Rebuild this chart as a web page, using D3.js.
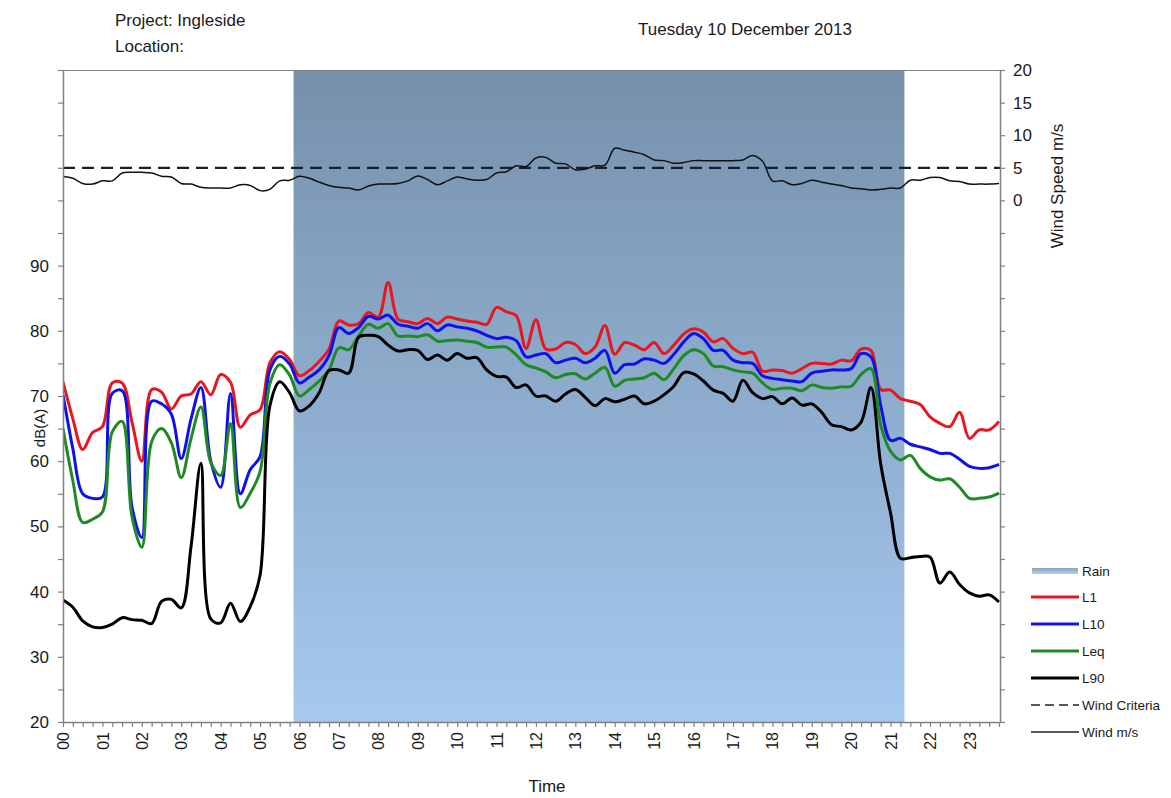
<!DOCTYPE html>
<html>
<head>
<meta charset="utf-8">
<script src="https://cdn.jsdelivr.net/npm/d3@7"></script>
<style>
  html, body { margin: 0; padding: 0; background: #fff; }
  svg { display: block; font-family: "Liberation Sans", Arial, sans-serif; }
</style>
</head>
<body>
<svg id="chart" width="1171" height="798"></svg>
<script>
// ---------------- DATA ----------------
const hourLabels = ["00","01","02","03","04","05","06","07","08","09","10","11",
                    "12","13","14","15","16","17","18","19","20","21","22","23"];
// 15-minute samples from 00:00 to 23:45
const times = d3.range(0, 24, 0.25);

const L1 = [72.2,66.5,61.8,64.4,65.3,72.0,72.0,66.0,60.0,71.0,70.6,68.0,
            70.0,70.3,72.2,70.2,73.3,72.1,65.2,67.1,67.9,75.1,76.8,75.6,
            73.1,73.9,75.3,77.2,81.5,80.9,81.1,82.8,82.1,87.4,81.8,81.4,
            81.1,81.9,81.1,82.1,81.8,81.5,81.3,81.0,83.6,82.9,82.3,77.3,
            81.7,77.2,77.2,78.2,77.9,76.5,77.5,80.8,76.4,78.2,77.8,77.1,
            78.2,76.5,77.8,79.5,80.3,79.8,78.3,78.8,77.3,76.5,76.7,73.8,
            74.0,73.9,73.5,74.2,75.0,75.0,74.9,75.5,75.4,77.2,77.0,71.0,
            70.9,69.6,69.2,68.7,66.8,65.8,65.3,67.5,63.5,64.8,64.8,66.1];

const L10 = [70.2,61.9,55.0,54.3,54.5,70.4,70.8,53.0,48.3,69.2,68.8,67.2,
             60.4,66.5,71.3,60.0,56.0,70.4,55.0,58.7,60.7,74.0,76.1,74.9,
             72.0,72.9,74.0,76.2,80.5,79.6,80.5,82.2,81.8,82.4,81.0,80.7,
             80.4,81.1,80.0,80.9,80.6,80.4,80.0,79.3,78.8,79.0,78.5,76.0,
             76.3,76.5,75.1,75.5,75.8,75.1,75.8,77.0,73.5,74.8,74.9,75.7,
             75.5,75.0,76.4,78.3,79.6,78.8,77.0,77.0,75.5,75.1,75.0,73.1,
             72.7,72.5,72.3,72.2,73.5,73.8,74.0,74.0,74.2,76.5,76.0,68.5,
             63.2,63.5,62.6,62.2,61.8,61.2,61.2,60.3,59.2,58.9,59.0,59.5];

const Leq = [65.0,57.0,50.6,51.1,52.2,64.5,66.1,51.5,46.8,63.0,65.0,62.8,
             57.5,63.5,68.3,59.8,57.8,65.8,52.9,55.1,58.4,71.9,74.8,73.2,
             70.0,71.0,72.3,74.0,77.4,77.1,79.2,81.0,80.4,81.1,79.2,79.2,
             79.1,79.4,78.4,78.5,78.6,78.4,78.2,77.5,77.5,77.5,76.3,74.8,
             74.3,73.7,72.8,73.3,73.4,72.6,73.5,74.4,71.5,72.4,72.6,72.8,
             73.5,72.5,74.2,76.2,77.1,76.5,74.6,74.5,74.0,73.7,73.5,72.0,
             71.0,71.2,71.2,70.8,71.7,71.3,71.2,71.4,71.5,73.3,74.2,65.5,
             61.5,60.2,60.9,58.9,57.6,57.1,57.3,56.0,54.3,54.3,54.5,55.1];

const L90 = [38.7,37.6,35.5,34.6,34.5,35.0,36.0,35.7,35.6,35.1,38.5,38.8,
             37.5,47.0,59.7,35.8,35.2,38.2,35.4,37.7,42.5,68.5,72.2,70.5,
             67.7,68.5,70.5,73.9,74.0,73.5,79.0,79.3,79.1,77.8,76.9,77.1,
             77.0,75.6,76.3,75.5,76.5,75.8,75.9,74.0,73.0,72.9,71.3,71.7,
             70.0,70.0,69.2,70.3,71.0,69.8,68.5,69.6,69.1,69.5,70.0,68.8,
             69.2,70.2,71.5,73.6,73.4,72.3,70.9,70.4,69.2,72.4,70.5,69.6,
             69.9,68.8,69.7,68.6,68.8,67.5,65.6,65.3,64.8,66.0,71.3,59.5,
             52.0,45.1,45.2,45.4,45.3,41.3,43.0,41.1,39.8,39.3,39.5,38.4];

const windSpeed = [3.65,3.4,2.6,2.5,3.0,3.0,4.2,4.3,4.3,4.2,3.7,3.6,
                   2.6,2.5,2.0,1.9,1.9,1.9,2.4,2.3,1.5,1.7,3.0,3.1,
                   3.7,3.4,2.8,2.3,2.0,1.9,1.6,2.2,2.5,2.5,2.6,3.0,
                   3.75,3.2,2.4,3.0,3.6,3.3,3.1,3.2,4.2,4.4,5.3,5.2,
                   6.5,6.6,5.7,5.6,4.7,4.8,5.3,5.4,8.0,7.7,7.4,7.0,
                   6.2,6.1,5.7,5.8,6.1,6.1,6.1,6.1,6.1,6.2,6.9,6.0,
                   3.0,3.0,2.4,2.6,3.1,2.8,2.5,2.3,1.9,1.8,1.6,1.7,
                   1.9,1.9,3.1,3.1,3.5,3.5,3.0,2.9,2.5,2.5,2.5,2.6];

const windCriteria = 5;
const rainPeriods = [[5.85, 21.35]];

const leftTicks = d3.range(20, 121, 5);
const leftLabels = [20,30,40,50,60,70,80,90];
const rightTicks = d3.range(-80, 21, 5);
const rightLabels = [0,5,10,15,20];

const seriesNames = ["L1","L10","Leq","L90"];
const seriesData = [L1, L10, Leq, L90];
const seriesColors = ["#e8161e","#1010ee","#1f8a24","#000000"];

// ---------------- LAYOUT ----------------
const svg = d3.select("#chart");
const pLeft = 63, pRight = 1000, pTop = 70, pBottom = 722;
const x = d3.scaleLinear().domain([0, 23.75]).range([pLeft, pRight - 1]);
const y = d3.scaleLinear().domain([20, 120]).range([pBottom, pTop]);
const yW = d3.scaleLinear().domain([-80, 20]).range([pBottom, pTop]);
const axisCol = "#808080";
const textCol = "#1a1a1a";

// gradient for rain
const defs = svg.append("defs");
const grad = defs.append("linearGradient").attr("id","rainGrad")
  .attr("x1",0).attr("y1",0).attr("x2",0).attr("y2",1);
grad.append("stop").attr("offset","0%").attr("stop-color","#7690ab");
grad.append("stop").attr("offset","100%").attr("stop-color","#a5c9ef");
const gradL = defs.append("linearGradient").attr("id","rainGradLeg")
  .attr("x1",0).attr("y1",0).attr("x2",0).attr("y2",1);
gradL.append("stop").attr("offset","0%").attr("stop-color","#8aa3c0");
gradL.append("stop").attr("offset","100%").attr("stop-color","#b4cfee");
defs.append("clipPath").attr("id","plotClip").append("rect")
  .attr("x", pLeft).attr("y", pTop).attr("width", pRight - pLeft).attr("height", pBottom - pTop);

// rain shading
svg.append("g").selectAll("rect").data(rainPeriods).join("rect")
  .attr("x", d => x(d[0])).attr("width", d => x(d[1]) - x(d[0]))
  .attr("y", pTop).attr("height", pBottom - pTop)
  .attr("fill", "url(#rainGrad)");

// wind criteria dashed line
svg.append("line")
  .attr("x1", pLeft).attr("x2", pRight)
  .attr("y1", yW(windCriteria)).attr("y2", yW(windCriteria))
  .attr("stroke", "#17202e").attr("stroke-width", 2.2)
  .attr("stroke-dasharray", "12,7");

const plot = svg.append("g").attr("clip-path","url(#plotClip)");

// wind speed line
plot.append("path")
  .datum(windSpeed)
  .attr("fill","none").attr("stroke","#111").attr("stroke-width",1.5)
  .attr("d", d3.line().x((d,i) => x(times[i])).y(d => yW(d)).curve(d3.curveCatmullRom.alpha(0.5)));

// noise series
const lineGen = d3.line().x((d,i) => x(times[i])).y(d => y(d)).curve(d3.curveCatmullRom.alpha(0.5));
plot.selectAll("path.series").data(seriesData).join("path")
  .attr("class","series")
  .attr("fill","none")
  .attr("stroke", (d,i) => seriesColors[i])
  .attr("stroke-width", 3)
  .attr("stroke-linejoin","round")
  .attr("d", d => lineGen(d));

// top frame line
svg.append("line").attr("x1", pLeft).attr("x2", pRight).attr("y1", pTop + 0.5).attr("y2", pTop + 0.5)
  .attr("stroke", axisCol).attr("stroke-width", 1.2);

// left axis
const gL = svg.append("g").attr("transform", `translate(${pLeft},0)`)
  .call(d3.axisLeft(y).tickValues(leftTicks).tickSize(5).tickSizeOuter(0)
    .tickFormat(d => leftLabels.includes(d) ? d : ""));
// right axis
const gR = svg.append("g").attr("transform", `translate(${pRight},0)`)
  .call(d3.axisRight(yW).tickValues(rightTicks).tickSize(5).tickSizeOuter(0)
    .tickFormat(d => rightLabels.includes(d) ? d : ""));
// bottom axis
const gB = svg.append("g").attr("transform", `translate(0,${pBottom})`)
  .call(d3.axisBottom(x).tickValues(times).tickSize(5).tickSizeOuter(0)
    .tickFormat(d => Number.isInteger(d) ? hourLabels[d] : ""));

[gL, gR, gB].forEach(g => {
  g.select(".domain").attr("stroke", axisCol).attr("stroke-width", 1.5);
  g.selectAll(".tick line").attr("stroke", axisCol).attr("stroke-width", 1.2);
  g.selectAll("text").attr("fill", textCol).style("font-family", '"Liberation Sans", Arial, sans-serif');
});
gL.selectAll("text").style("font-size","17px").attr("x", -14);
gR.selectAll("text").style("font-size","17px").attr("x", 13);
gB.selectAll("text").style("font-size","16px")
  .attr("transform","rotate(-90)")
  .attr("text-anchor","end")
  .attr("x", -10).attr("y", 0).attr("dy", "0.35em");

// axis titles
svg.append("text").attr("transform", "translate(45,428) rotate(-90)")
  .attr("text-anchor","middle").style("font-size","15px").attr("fill", textCol).text("dB(A)");
svg.append("text").attr("transform", "translate(1063,186) rotate(-90)")
  .attr("text-anchor","middle").style("font-size","17px").attr("fill", textCol).text("Wind Speed m/s");
svg.append("text").attr("x", 547).attr("y", 792)
  .attr("text-anchor","middle").style("font-size","17px").attr("fill", textCol).text("Time");

// header
svg.append("text").attr("x", 115).attr("y", 26).style("font-size","17px").attr("fill", textCol).text("Project: Ingleside");
svg.append("text").attr("x", 115).attr("y", 52).style("font-size","17px").attr("fill", textCol).text("Location:");
svg.append("text").attr("x", 638).attr("y", 35).style("font-size","17px").attr("fill", textCol).text("Tuesday 10 December 2013");

// legend
const legendItems = [
  {name:"Rain", type:"rain"},
  {name:"L1", type:"line", color: seriesColors[0]},
  {name:"L10", type:"line", color: seriesColors[1]},
  {name:"Leq", type:"line", color: seriesColors[2]},
  {name:"L90", type:"line", color: seriesColors[3]},
  {name:"Wind Criteria", type:"dash"},
  {name:"Wind m/s", type:"thin"}
];
const legY = [571, 597, 624, 651, 678, 705, 732];
const lg = svg.append("g");
legendItems.forEach((it, i) => {
  const yy = legY[i];
  if (it.type === "rain") {
    lg.append("rect").attr("x", 1032).attr("y", yy - 3).attr("width", 46).attr("height", 6)
      .attr("fill", "url(#rainGradLeg)");
  } else if (it.type === "line") {
    lg.append("line").attr("x1", 1031).attr("x2", 1079).attr("y1", yy).attr("y2", yy)
      .attr("stroke", it.color).attr("stroke-width", 3);
  } else if (it.type === "dash") {
    lg.append("line").attr("x1", 1031).attr("x2", 1079).attr("y1", yy).attr("y2", yy)
      .attr("stroke", "#222").attr("stroke-width", 1.5).attr("stroke-dasharray", "9,5");
  } else {
    lg.append("line").attr("x1", 1031).attr("x2", 1079).attr("y1", yy).attr("y2", yy)
      .attr("stroke", "#222").attr("stroke-width", 1.5);
  }
  lg.append("text").attr("x", 1082).attr("y", yy).attr("dy", "0.35em")
    .style("font-size", "13.5px").attr("fill", textCol).text(it.name);
});
</script>
</body>
</html>
